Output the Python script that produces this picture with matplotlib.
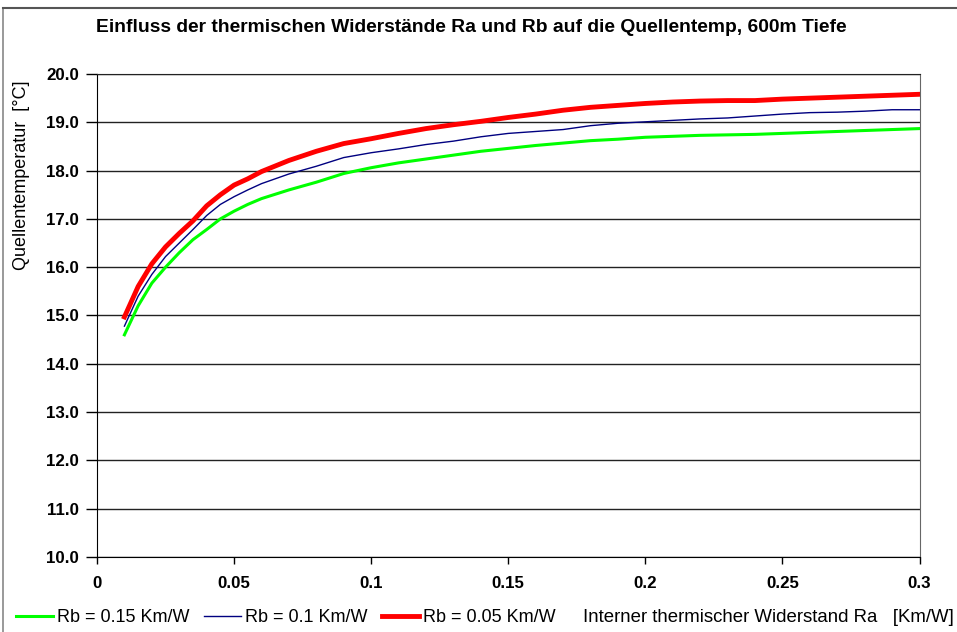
import numpy as np
import matplotlib
matplotlib.use("Agg")
import matplotlib.pyplot as plt
from matplotlib.lines import Line2D

plt.rcParams['font.family'] = ['Liberation Sans', 'DejaVu Sans']

# Interner thermischer Widerstand Ra [Km/W]
ra = [0.01, 0.015, 0.02, 0.025, 0.03, 0.035, 0.04, 0.045, 0.05, 0.055, 0.06,
      0.07, 0.08, 0.09, 0.10, 0.11, 0.12, 0.13, 0.14, 0.15, 0.16, 0.17, 0.18,
      0.19, 0.20, 0.21, 0.22, 0.23, 0.24, 0.25, 0.26, 0.27, 0.28, 0.29, 0.30]

# Quellentemperatur [°C]
t_rb015 = [14.60, 15.20, 15.67, 16.00, 16.30, 16.57, 16.78, 17.00, 17.16, 17.30, 17.42,
           17.60, 17.76, 17.94, 18.06, 18.16, 18.24, 18.32, 18.40, 18.46, 18.52, 18.57, 18.62,
           18.65, 18.69, 18.71, 18.73, 18.74, 18.75, 18.77, 18.79, 18.81, 18.83, 18.85, 18.87]
t_rb010 = [14.78, 15.40, 15.85, 16.22, 16.50, 16.78, 17.07, 17.30, 17.46, 17.60, 17.73,
           17.93, 18.09, 18.27, 18.37, 18.45, 18.54, 18.61, 18.70, 18.77, 18.81, 18.85, 18.93,
           18.98, 19.01, 19.04, 19.07, 19.09, 19.13, 19.17, 19.20, 19.21, 19.23, 19.26, 19.26]
t_rb005 = [14.97, 15.60, 16.07, 16.42, 16.70, 16.96, 17.27, 17.50, 17.70, 17.83, 17.98,
           18.21, 18.40, 18.56, 18.66, 18.77, 18.87, 18.95, 19.02, 19.10, 19.17, 19.25, 19.31,
           19.35, 19.39, 19.42, 19.44, 19.45, 19.45, 19.48, 19.50, 19.52, 19.54, 19.56, 19.58]

x_ticks = [0, 0.05, 0.1, 0.15, 0.2, 0.25, 0.3]
x_labels = ['0', '0.05', '0.1', '0.15', '0.2', '0.25', '0.3']
y_ticks = np.arange(10, 21, 1)

fig = plt.figure(figsize=(9.57, 6.32), dpi=100)
ax = fig.add_axes([97/957, 1-557/632, (919.5-97)/957, (557-74)/632])

l1, = ax.plot(ra, t_rb015, color='#00ff00', lw=2.2, label='Rb = 0.15 Km/W')
l2, = ax.plot(ra, t_rb010, color='#000080', lw=1.0, label='Rb = 0.1 Km/W')
l3, = ax.plot(ra, t_rb005, color='#ff0000', lw=3.5, label='Rb = 0.05 Km/W')

ax.set_xlim(0, 0.3)
ax.set_ylim(10, 20)
ax.set_xticks(x_ticks)
ax.set_xticklabels(x_labels, fontsize=12.2, fontweight='bold')
ax.set_yticks(y_ticks)
ax.set_yticklabels([f'{v:.1f}' for v in y_ticks], fontsize=12.2, fontweight='bold')
ax.tick_params(axis='x', direction='out', length=5, width=1, color='black', pad=9)
ax.tick_params(axis='y', direction='out', length=8, width=1, color='black', pad=5)
ax.yaxis.grid(True, color='#222222', lw=1)
ax.set_axisbelow(True)
for s in ['left', 'bottom']:
    ax.spines[s].set_color('black')
ax.spines['top'].set_color('#222222')
ax.spines['right'].set_color('#666666')

fig.text(471/957, 1-27/632, 'Einfluss der thermischen Widerstände Ra und Rb auf die Quellentemp, 600m Tiefe',
         ha='center', va='center', fontsize=13.9, fontweight='bold')
fig.text(21.5/957, 1-175/632, 'Quellentemperatur  [°C]', rotation=90,
         ha='center', va='center', fontsize=13)
fig.text(583/957, 1-618/632, 'Interner thermischer Widerstand Ra   [Km/W]',
         ha='left', va='center', fontsize=13.4)

fig.legend(handles=[l1, l2, l3], loc='center left', bbox_to_anchor=(16/957, 1-618/632),
           ncol=3, frameon=False, fontsize=13, handlelength=2.05, handletextpad=0.22,
           columnspacing=0.8, borderpad=0, borderaxespad=0)

# Rahmen des Diagrammbereichs
fig.add_artist(Line2D([3/957, 3/957], [0, 1-8/632], color='#888888', lw=1.2))
fig.add_artist(Line2D([3/957, 1], [1-8/632, 1-8/632], color='#555555', lw=1.5))

fig.savefig('out.png', dpi=100)
